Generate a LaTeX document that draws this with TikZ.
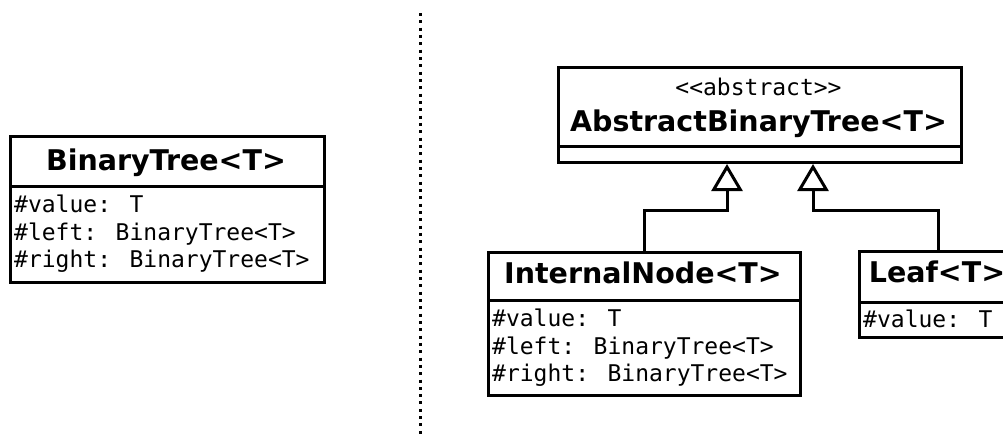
\documentclass[tikz,border=0pt]{standalone}
\usepackage{fontspec}
\setmainfont{DejaVu Sans}
\newfontfamily\monof{DejaVu Sans Mono}
\usetikzlibrary{arrows.meta}
\tikzset{
  x=1pt, y=1pt,
  umlbox/.style={draw, line width=3pt, rectangle, inner sep=0pt, anchor=north west},
  sepline/.style={line width=3pt},
  title/.style={font=\bfseries\fontsize{28.5}{32}\selectfont, inner sep=0pt, anchor=base},
  attr/.style={font=\monof\fontsize{23}{27}\selectfont, inner sep=0pt, anchor=base west},
  stereo/.style={font=\monof\fontsize{23}{27}\selectfont, inner sep=0pt, anchor=base},
  inherit/.style={line width=3pt, -{Triangle[open, length=27pt, width=31pt, line width=3pt]}},
  divider/.style={line width=3pt, dash pattern=on 3pt off 4.33pt}
}
\begin{document}
\begin{tikzpicture}
\useasboundingbox (0,0) rectangle (1003,-439);
\clip (0,0) rectangle (1003,-439);

% left: the plain BinaryTree class
\node[umlbox, minimum width=314pt, minimum height=146pt] (bt) at (9,-135) {};
\draw[sepline] (9,-186) -- (323,-186);
\node[title] (btname) at (166,-170) {BinaryTree<T>};
\node[attr] (btv) at (14,-212) {\#value: T};
\node[attr] (btl) at (14,-240) {\#left: BinaryTree<T>};
\node[attr] (btr) at (14,-267) {\#right: BinaryTree<T>};

% dotted divider
\coordinate (dtop) at (420,-13);
\coordinate (dbot) at (420,-436);
\draw[divider] (dtop) -- (dbot);

% right: abstract base class
\node[umlbox, minimum width=403pt, minimum height=95pt] (abt) at (557,-66) {};
\draw[sepline] (557,-146) -- (960,-146);
\node[stereo] (abtst) at (758.5,-95) {<<abstract>>};
\node[title] (abtname) at (758.5,-131) {AbstractBinaryTree<T>};

% InternalNode class
\node[umlbox, minimum width=312pt, minimum height=143pt] (inode) at (487,-251) {};
\draw[sepline] (487,-300) -- (799,-300);
\node[title] (inname) at (643,-283) {InternalNode<T>};
\node[attr] (inv) at (492,-326) {\#value: T};
\node[attr] (inl) at (492,-354) {\#left: BinaryTree<T>};
\node[attr] (inr) at (492,-381) {\#right: BinaryTree<T>};

% Leaf class
\node[umlbox, minimum width=158pt, minimum height=86pt] (leaf) at (858,-250) {};
\draw[sepline] (858,-302) -- (1016,-302);
\node[title] (lfname) at (937,-282) {Leaf<T>};
\node[attr] (lfv) at (863,-327) {\#value: T};

% generalisation arrows
\coordinate (j1) at (727,-210);
\coordinate (j2) at (813,-210);
\draw[inherit] (inode.north) |- (j1) -- (j1 |- abt.south);
\draw[inherit] (leaf.north) |- (j2) -- (j2 |- abt.south);
\end{tikzpicture}
\end{document}
